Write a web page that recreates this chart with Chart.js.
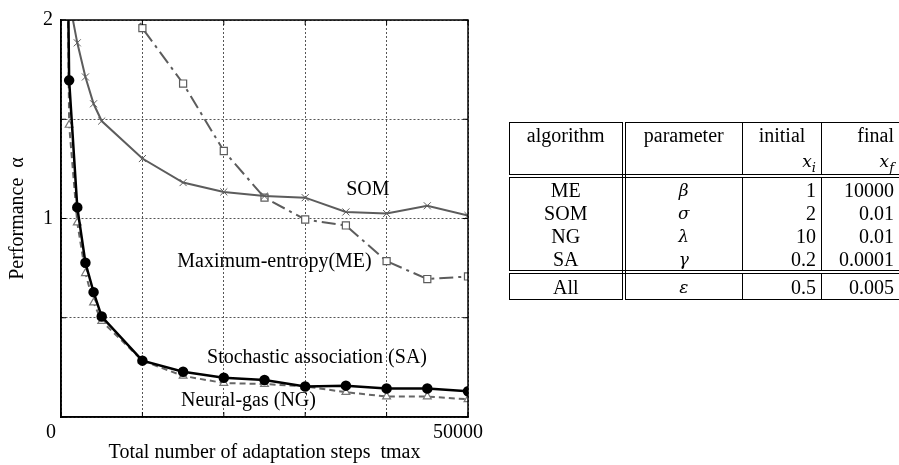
<!DOCTYPE html>
<html>
<head>
<meta charset="utf-8">
<script src="https://cdn.jsdelivr.net/npm/chart.js@4.4.1/dist/chart.umd.min.js"></script>
<style>
  body { margin: 0; background: #fff; }
  #wrap { position: relative; width: 899px; height: 465px; overflow: hidden; }
  #perfChart { position: absolute; left: 0; top: 0; }
  #params {
    position: absolute; left: 509px; top: 122px; width: 397px;
    border-collapse: collapse; table-layout: fixed;
    font: 20px "Liberation Serif", "Times New Roman", serif; color: #000;
    border: 1px solid #000;
  }
  #params td { border-left: 1px solid #000; border-right: 1px solid #000; padding: 0 5px; line-height: 22px; height: 23px; white-space: nowrap; }
  #params td:first-child { border-right: 4px double #000; text-align: center; }
  #params td:nth-child(2) { text-align: center; }
  #params td:nth-child(3), #params td:nth-child(4) { text-align: right; }
  #params td:nth-child(4) { padding-right: 12px; }
  #params tr.head td { vertical-align: top; height: 48px; line-height: 25px; border-bottom: 4px double #000; }
  #params tr.last td { border-bottom: 4px double #000; }
  #params tr.all td { height: 25px; }
  #params .c { display: block; text-align: center; }
  #params sub { font-size: 14px; line-height: 0; }
  #params i { font-family: "DejaVu Serif", serif; font-size: 17px; }
  #params sub i { font-size: 13px; }
</style>
</head>
<body>
<div id="wrap">
  <canvas id="perfChart" width="899" height="465"></canvas>
  <table id="params">
    <colgroup><col style="width:114px"><col style="width:119px"><col style="width:79px"><col style="width:85px"></colgroup>
    <tr class="head"><td>algorithm</td><td>parameter</td><td><span class="c">initial</span><i>x</i><sub><i>i</i></sub></td><td>final<br><i>x</i><sub><i>f</i></sub></td></tr>
    <tr><td>ME</td><td><i>β</i></td><td>1</td><td>10000</td></tr>
    <tr><td>SOM</td><td><i>σ</i></td><td>2</td><td>0.01</td></tr>
    <tr><td>NG</td><td><i>λ</i></td><td>10</td><td>0.01</td></tr>
    <tr class="last"><td>SA</td><td><i>γ</i></td><td>0.2</td><td>0.0001</td></tr>
    <tr class="all"><td>All</td><td><i>ε</i></td><td>0.5</td><td>0.005</td></tr>
  </table>
</div>
<script>
// adaptation steps (tmax) shared by all curves
const steps = [500, 1000, 2000, 3000, 4000, 5000, 10000, 15000, 20000, 25000, 30000, 35000, 40000, 45000, 50000];

// performance alpha per algorithm (null = not measured)
const saValues  = [3.5, 1.696, 1.056, 0.777, 0.629, 0.506, 0.284, 0.228, 0.198, 0.186, 0.154, 0.158, 0.144, 0.144, 0.130];
const ngValues  = [3.5, 1.471, 0.979, 0.724, 0.576, 0.483, 0.284, 0.207, 0.171, 0.166, 0.154, 0.125, 0.103, 0.103, 0.089];
const somValues = [null, 2.10, 1.885, 1.713, 1.578, 1.491, 1.302, 1.181, 1.134, 1.113, 1.105, 1.033, 1.025, 1.064, 1.015];
const meValues  = [null, null, null, null, null, 2.45, 1.959, 1.680, 1.340, 1.105, 0.995, 0.965, 0.785, 0.695, 0.708];

// curve labels written inside the plot, anchored in data units
const curveLabels = ['SOM', 'Maximum-entropy(ME)', 'Stochastic association (SA)', 'Neural-gas (NG)'];
const labelSteps  = [37700, 26230, 31450, 23030];
const labelValues = [1.143, 0.783, 0.296, 0.084];

const serif = '"Liberation Serif", "Times New Roman", serif';

function toPoints(vals) {
    return steps.map((x, i) => ({ x: x, y: vals[i] })).filter(p => p.y !== null);
}

// frame, inward ticks and curve labels
const framePlugin = {
    id: 'frame',
    afterDatasetsDraw(chart) {
        const { ctx, chartArea: a, scales } = chart;
        ctx.save();
        ctx.strokeStyle = '#000';
        ctx.lineWidth = 1;
        ctx.beginPath();
        scales.x.ticks.forEach(t => {
            const px = scales.x.getPixelForValue(t.value);
            ctx.moveTo(px, a.bottom); ctx.lineTo(px, a.bottom - 5);
            ctx.moveTo(px, a.top); ctx.lineTo(px, a.top + 5);
        });
        scales.y.ticks.forEach(t => {
            const py = scales.y.getPixelForValue(t.value);
            ctx.moveTo(a.left, py); ctx.lineTo(a.left + 5, py);
            ctx.moveTo(a.right, py); ctx.lineTo(a.right - 5, py);
        });
        ctx.stroke();
        ctx.lineWidth = 1.5;
        ctx.strokeRect(a.left, a.top, a.right - a.left, a.bottom - a.top);

        ctx.font = '20px ' + serif;
        ctx.fillStyle = '#000';
        ctx.textAlign = 'center';
        ctx.textBaseline = 'middle';
        curveLabels.forEach((t, i) => {
            ctx.fillText(t, scales.x.getPixelForValue(labelSteps[i]), scales.y.getPixelForValue(labelValues[i]));
        });
        ctx.restore();
    }
};

new Chart(document.getElementById('perfChart').getContext('2d'), {
    type: 'line',
    data: {
        datasets: [
            {
                label: 'SA',
                data: toPoints(saValues),
                borderColor: '#000',
                borderWidth: 2.5,
                pointStyle: 'circle',
                pointRadius: 4,
                pointBackgroundColor: '#000',
                pointBorderColor: '#000'
            },
            {
                label: 'NG',
                data: toPoints(ngValues),
                borderColor: '#666',
                borderWidth: 2,
                borderDash: [6, 4],
                pointStyle: 'triangle',
                pointRadius: 4.5,
                pointBackgroundColor: '#fff',
                pointBorderColor: '#777',
                pointBorderWidth: 1.2
            },
            {
                label: 'SOM',
                data: toPoints(somValues),
                borderColor: '#5c5c5c',
                borderWidth: 2,
                pointStyle: 'crossRot',
                pointRadius: 5,
                pointBorderColor: '#5c5c5c',
                pointBorderWidth: 1
            },
            {
                label: 'ME',
                data: toPoints(meValues),
                borderColor: '#5c5c5c',
                borderWidth: 2,
                borderDash: [14, 5, 3, 5],
                pointStyle: 'rect',
                pointRadius: 5,
                pointBackgroundColor: '#fff',
                pointBorderColor: '#5c5c5c',
                pointBorderWidth: 1.2
            }
        ]
    },
    options: {
        responsive: false,
        animation: false,
        layout: { padding: { left: 0, top: 11, right: 431, bottom: 0 } },
        plugins: {
            legend: { display: false },
            tooltip: { enabled: false }
        },
        scales: {
            x: {
                type: 'linear',
                min: 0,
                max: 50000,
                afterFit: s => { s.height = 48; },
                ticks: {
                    stepSize: 10000,
                    autoSkip: false,
                    maxRotation: 0,
                    padding: 4,
                    labelOffset: -10,
                    color: '#000',
                    font: { family: serif, size: 20 },
                    callback: v => (v === 0 || v === 50000) ? String(v) : ''
                },
                grid: { color: '#555', lineWidth: 1, drawTicks: false },
                border: { display: true, color: '#000', width: 1.5, dash: [2, 2] },
                title: {
                    display: true,
                    text: 'Total number of adaptation steps  tmax',
                    color: '#000',
                    font: { family: serif, size: 20 },
                    padding: { top: 0, bottom: 0 }
                }
            },
            y: {
                min: 0,
                max: 2,
                afterFit: s => { s.width = 61; },
                ticks: {
                    stepSize: 0.5,
                    padding: 8,
                    color: '#000',
                    font: { family: serif, size: 20 },
                    callback: v => (v === 1 || v === 2) ? String(v) : ''
                },
                grid: { color: '#555', lineWidth: 1, drawTicks: false },
                border: { display: true, color: '#000', width: 1.5, dash: [2, 2] },
                title: {
                    display: true,
                    text: 'Performance  α',
                    color: '#000',
                    font: { family: serif, size: 20 },
                    padding: { top: 6, bottom: 0 }
                }
            }
        }
    },
    plugins: [framePlugin]
});
</script>
</body>
</html>
